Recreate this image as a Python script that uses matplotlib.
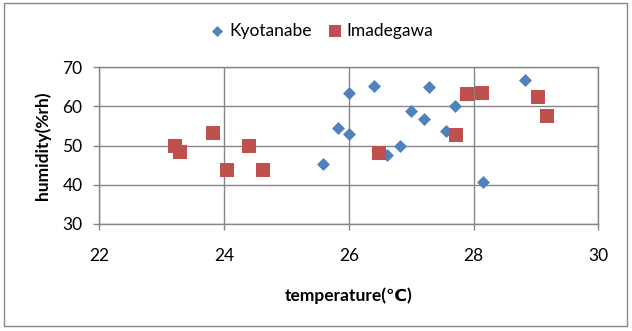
import numpy as np
import matplotlib
matplotlib.use("Agg")
import matplotlib.pyplot as plt
from matplotlib.patches import Rectangle

# temperature / humidity readings
kyo_temp = [25.58, 25.83, 26.00, 26.00, 26.41, 26.62, 26.82, 27.00, 27.20, 27.29, 27.56, 27.71, 28.15, 28.82]
kyo_hum = [45.2, 54.4, 63.5, 52.9, 65.1, 47.6, 49.9, 58.9, 56.7, 64.9, 53.7, 60.2, 40.8, 66.7]
ima_temp = [23.21, 23.30, 23.83, 24.05, 24.40, 24.63, 26.49, 27.72, 27.90, 28.14, 29.04, 29.18]
ima_hum = [49.8, 48.3, 53.3, 43.8, 49.9, 43.8, 48.2, 52.8, 63.1, 63.5, 62.3, 57.6]

xticks = [22, 24, 26, 28, 30]
yticks = [30, 40, 50, 60, 70]

plt.rcParams['font.family'] = ['Lato', 'DejaVu Sans']

fig = plt.figure(figsize=(6.32, 3.31), dpi=100)
ax = fig.add_axes([0.157, 0.3233, 0.7897, 0.4734])

grid_c = '#868686'
ax.scatter(kyo_temp, kyo_hum, marker='D', s=6.6**2, color='#4f81bd', label='Kyotanabe', zorder=3, linewidths=0)
ax.scatter(ima_temp, ima_hum, marker='s', s=10**2, color='#c0504d', label='Imadegawa', zorder=3, linewidths=0)

ax.set_xlim(22, 30)
ax.set_ylim(30, 70)
ax.set_xticks(xticks)
ax.set_yticks(yticks)
ax.grid(True, color=grid_c, linewidth=1)
ax.set_axisbelow(True)
for s in ax.spines.values():
    s.set_color(grid_c)
    s.set_linewidth(1)
ax.tick_params(direction='out', length=4, width=1, color=grid_c, labelsize=12.5, pad=8)
ax.tick_params(axis='x', pad=13)

ax.set_xlabel('temperature(℃)', fontsize=12.5, fontweight='bold', labelpad=17)
ax.set_ylabel('humidity(%rh)', fontsize=12.5, fontweight='bold', labelpad=8)

ax.legend(loc='center', bbox_to_anchor=(322 / 632, 1 - 30.7 / 331), bbox_transform=fig.transFigure,
          ncol=2, frameon=False, fontsize=12.5, handlelength=0.8, handletextpad=0.3,
          columnspacing=0.9, markerscale=0.85)

fig.patches.append(Rectangle((4 / 632, 5 / 331), 623 / 632, 323 / 331, transform=fig.transFigure,
                             fill=False, edgecolor=grid_c, linewidth=1))

fig.savefig('out.png', dpi=100)
